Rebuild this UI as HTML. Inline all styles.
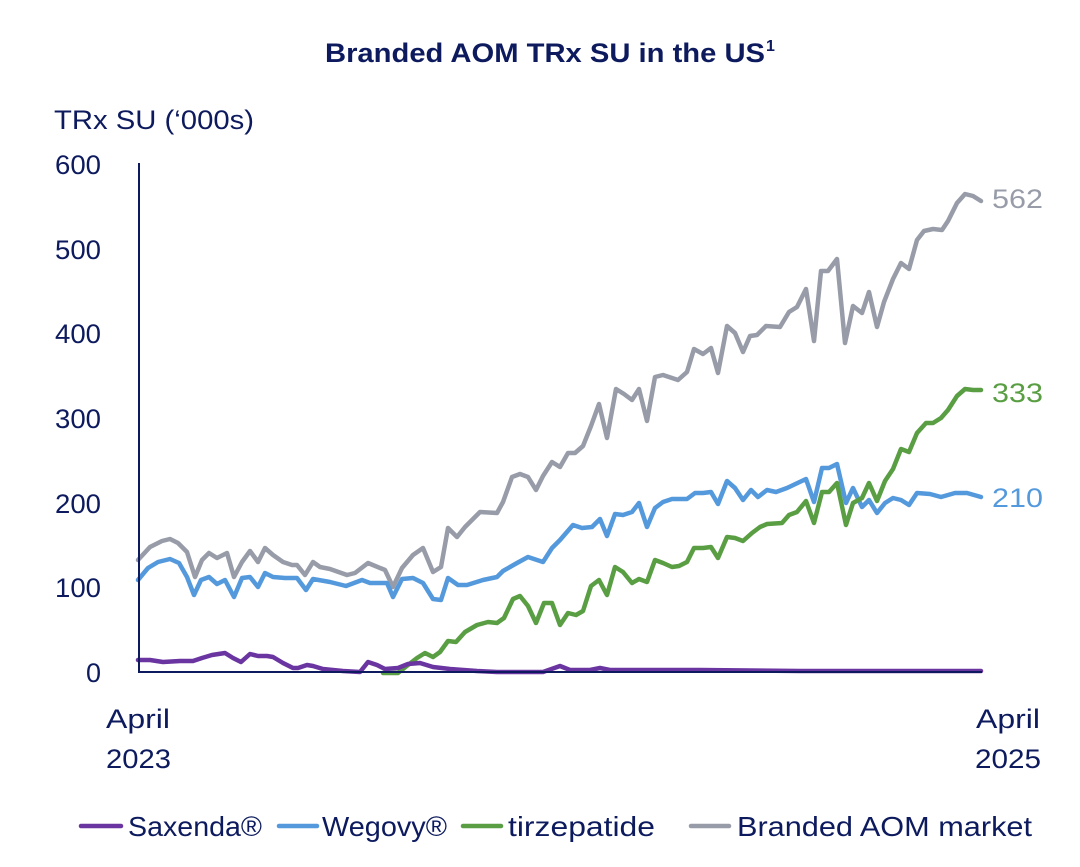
<!DOCTYPE html>
<html><head><meta charset="utf-8"><style>
html,body{margin:0;padding:0;background:#fff;}
svg{display:block;}
text{font-family:"Liberation Sans",sans-serif;fill:#0d1b5e;}
</style></head><body>
<svg width="1080" height="867" viewBox="0 0 1080 867" xmlns="http://www.w3.org/2000/svg">
<text x="325" y="62" font-size="27" font-weight="bold" textLength="440" lengthAdjust="spacingAndGlyphs">Branded AOM TRx SU in the US</text>
<text x="766" y="51" font-size="16" font-weight="bold">1</text>
<text x="54" y="129" font-size="27" textLength="200" lengthAdjust="spacingAndGlyphs">TRx SU (‘000s)</text>
<g font-size="27" text-anchor="end">
<text x="101" y="174" textLength="46" lengthAdjust="spacingAndGlyphs">600</text>
<text x="101" y="259" textLength="46" lengthAdjust="spacingAndGlyphs">500</text>
<text x="101" y="343" textLength="46" lengthAdjust="spacingAndGlyphs">400</text>
<text x="101" y="428" textLength="46" lengthAdjust="spacingAndGlyphs">300</text>
<text x="101" y="513" textLength="46" lengthAdjust="spacingAndGlyphs">200</text>
<text x="101" y="597" textLength="46" lengthAdjust="spacingAndGlyphs">100</text>
<text x="101" y="682">0</text>
</g>
<g font-size="27">
<text x="106" y="728" textLength="64" lengthAdjust="spacingAndGlyphs">April</text>
<text x="106" y="768" textLength="65" lengthAdjust="spacingAndGlyphs">2023</text>
<text x="976" y="728" textLength="64" lengthAdjust="spacingAndGlyphs">April</text>
<text x="975" y="768" textLength="66" lengthAdjust="spacingAndGlyphs">2025</text>
</g>
<g fill="none" stroke-width="4.5" stroke-linejoin="round" stroke-linecap="round">
<polyline stroke="#979ca8" points="138,560 150,547 162,541 170,539 178,543 187,552 195,577 202,560 209,553 217,558 227,553 234,577 242,562 250,551 258,562 265,548 273,555 283,562 292,565 297,565 305,575 313,562 320,567 330,569 347,575 355,573 368,563 385,570 393,587 402,568 413,555 423,548 433,572 441,567 448,528 457,537 465,527 480,512 497,513 503,502 512,477 520,474 528,477 536,490 543,476 552,462 560,467 568,453 575,453 583,446 591,426 599,404 607,438 616,389 624,394 632,400 639,389 647,421 655,377 663,375 678,380 687,372 694,349 703,354 711,348 718,373 727,326 735,333 743,352 750,336 757,335 766,326 780,327 789,312 797,307 806,289 814,341 821,271 828,271 837,259 845,343 853,306 862,313 869,292 877,327 884,302 893,279 901,263 909,269 917,240 924,231 933,229 942,230 948,221 957,203 965,194 973,196 981,201"/>
<polyline stroke="#5599dd" points="138,580 148,568 158,562 170,559 179,563 187,577 194,595 201,580 209,577 217,584 225,580 234,597 242,578 250,577 258,587 265,573 273,577 285,578 297,578 306,590 313,579 330,582 346,586 362,580 370,583 387,583 393,597 402,579 413,578 423,583 433,599 441,600 448,578 458,585 467,585 483,580 497,577 503,571 517,563 528,557 543,562 552,548 560,540 573,525 582,528 592,527 600,519 607,536 615,514 623,515 632,512 639,503 647,527 655,508 663,502 672,499 687,499 695,493 703,493 711,492 718,504 727,481 735,488 743,500 751,490 758,497 767,490 776,492 787,488 806,479 814,502 822,468 829,468 837,464 846,503 853,488 862,507 869,500 877,513 885,503 893,498 901,500 909,505 917,493 930,494 941,497 955,493 967,493 981,497"/>
<polyline stroke="#5a9e44" points="383,673 398,673 408,665 417,658 425,653 433,657 440,652 448,641 456,642 465,632 477,625 488,622 497,623 504,618 513,599 520,596 528,606 536,623 544,603 552,603 560,625 568,613 576,615 583,611 591,586 599,580 607,595 615,567 623,572 632,583 639,579 647,582 655,560 663,563 672,567 679,566 687,562 694,548 703,548 711,547 718,558 727,537 735,538 743,541 752,533 760,527 767,524 782,523 789,515 797,512 806,501 814,523 822,492 829,492 837,483 846,525 853,503 862,498 869,483 877,501 885,481 893,469 901,449 909,452 917,433 926,423 933,423 941,418 948,410 957,396 965,389 973,390 981,390"/>
<polyline stroke="#6a35a0" points="138,660 150,660 163,662 180,661 193,661 202,658 212,655 225,653 233,658 241,662 250,654 258,656 267,656 273,657 283,663 293,668 298,668 307,665 313,666 323,669 343,671 360,672 368,662 377,665 385,669 398,668 408,664 420,663 433,667 450,669 477,671 497,672 543,672 560,666 570,670 590,670 600,668 610,670 700,670 800,671 981,671"/>
</g>
<line x1="139" y1="163" x2="139" y2="673" stroke="#0d1b5e" stroke-width="2"/>
<line x1="138" y1="672" x2="982" y2="672" stroke="#0d1b5e" stroke-width="2"/>
<g font-size="27">
<text x="992" y="208" style="fill:#979ca8" textLength="51" lengthAdjust="spacingAndGlyphs">562</text>
<text x="992" y="402" style="fill:#5a9e44" textLength="51" lengthAdjust="spacingAndGlyphs">333</text>
<text x="992" y="507" style="fill:#5599dd" textLength="51" lengthAdjust="spacingAndGlyphs">210</text>
</g>
<g stroke-width="4.5" stroke-linecap="round">
<line x1="81" y1="826" x2="121" y2="826" stroke="#6a35a0"/>
<line x1="279" y1="826" x2="317" y2="826" stroke="#5599dd"/>
<line x1="463" y1="826" x2="501" y2="826" stroke="#5a9e44"/>
<line x1="691" y1="826" x2="729" y2="826" stroke="#979ca8"/>
</g>
<g font-size="28">
<text x="128" y="836" textLength="134" lengthAdjust="spacingAndGlyphs">Saxenda®</text>
<text x="322" y="836" textLength="125" lengthAdjust="spacingAndGlyphs">Wegovy®</text>
<text x="508" y="836" textLength="147" lengthAdjust="spacingAndGlyphs">tirzepatide</text>
<text x="737" y="836" textLength="295" lengthAdjust="spacingAndGlyphs">Branded AOM market</text>
</g>
</svg>
</body></html>
